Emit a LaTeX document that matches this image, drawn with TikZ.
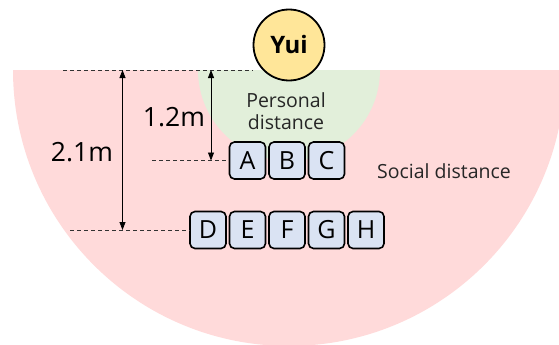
\documentclass[tikz,border=0pt]{standalone}
\usepackage{fontspec}
\setmainfont{Open Sans}
\usetikzlibrary{arrows.meta}
\definecolor{socialred}{RGB}{255,218,218}
\definecolor{persgreen}{RGB}{226,239,218}
\definecolor{yuifill}{RGB}{255,230,153}
\definecolor{boxfill}{RGB}{218,227,243}
\definecolor{dashgray}{RGB}{50,50,50}
\tikzset{
  personbox/.style={draw=black, line width=1.6pt, fill=boxfill, rounded corners=5pt,
    minimum width=36pt, minimum height=37pt, inner sep=0pt,
    font=\fontsize{25}{28}\selectfont},
  guideline/.style={draw=dashgray, line width=1pt, dash pattern=on 4pt off 3pt},
  dimarrow/.style={draw=black, line width=0.8pt, {Triangle[length=8pt,width=6pt]}-{Triangle[length=8pt,width=6pt]}},
  dimlabel/.style={font=\fontsize{26.5}{30}\selectfont, inner sep=0pt},
  zonelabel/.style={font=\fontsize{19.5}{22}\selectfont, inner sep=0pt, text=black!85, align=center},
}
\begin{document}
\begin{tikzpicture}[x=1pt,y=-1pt]
\useasboundingbox (0,0) rectangle (559,345);
\begin{scope}
\clip (0,0) rectangle (559,345);
\fill[socialred] (13,70) arc[start angle=180, end angle=0, radius=276] -- cycle;
\fill[persgreen] (198,70) arc[start angle=180, end angle=0, radius=91] -- cycle;
\end{scope}

% people boxes
\node[personbox] (A) at (247.5,160.5) {A};
\node[personbox] (B) at (287,160.5) {B};
\node[personbox] (C) at (326.5,160.5) {C};
\node[personbox] (D) at (208,230) {D};
\node[personbox] (E) at (247.5,230) {E};
\node[personbox] (F) at (287,230) {F};
\node[personbox] (G) at (326.5,230) {G};
\node[personbox] (H) at (366,230) {H};

% Yui
\node[circle, draw=black, line width=1.8pt, fill=yuifill, minimum size=71pt, inner sep=0pt,
  font=\fontsize{24}{28}\selectfont\bfseries] (yui) at (289,45) {Yui};

% guide lines
\coordinate (lt) at (63,70);
\coordinate (l12) at (152,160.5);
\coordinate (l21) at (70,230);
\draw[guideline] (lt) -- (lt -| yui.west);
\draw[guideline] (l12) -- (A.west);
\draw[guideline] (l21) -- (D.west);

% dimension arrows
\coordinate (a12t) at (211,70);
\coordinate (a12b) at (211,160.5);
\coordinate (a21t) at (122.5,70);
\coordinate (a21b) at (122.5,230);
\draw[dimarrow] (a12b) -- (a12t);
\draw[dimarrow] (a21b) -- (a21t);

% labels
\node[dimlabel] (d12) at (174,117) {1.2m};
\node[dimlabel] (d21) at (82,152) {2.1m};
\node[zonelabel] (pers) at (286,111) {Personal\\distance};
\node[zonelabel] (soc) at (444,171) {Social distance};
\end{tikzpicture}
\end{document}
